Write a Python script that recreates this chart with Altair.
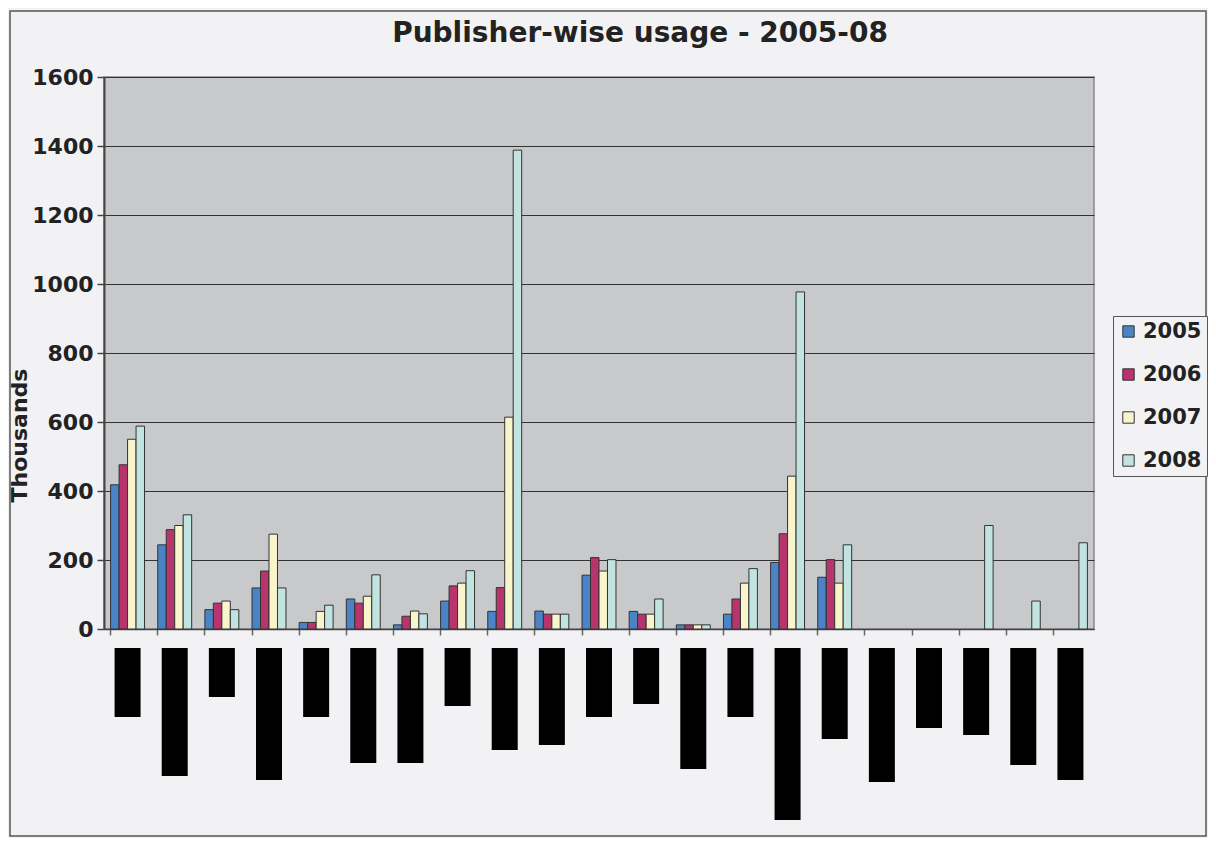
import altair as alt
import pandas as pd

chart_title = "Publisher-wise usage - 2005-08"
publishers = [f"Publisher {i}" for i in range(1, 22)]
years = ["2005", "2006", "2007", "2008"]
v2005 = [418, 244, 56, 119, 19, 87, 12, 81, 51, 52, 156, 51, 12, 43, 193, 150, 0, 0, 0, 0, 0]
v2006 = [476, 288, 75, 168, 19, 75, 37, 125, 120, 43, 207, 43, 12, 87, 276, 201, 0, 0, 0, 0, 0]
v2007 = [550, 300, 81, 275, 51, 95, 52, 133, 614, 43, 168, 43, 12, 133, 443, 133, 0, 0, 0, 0, 0]
v2008 = [588, 331, 56, 119, 69, 157, 44, 169, 1388, 43, 201, 87, 12, 175, 977, 244, 0, 0, 300, 81, 250]
# lengths of the redacted (blacked-out) category labels
label_box = [69, 128, 49, 132, 69, 115, 115, 58, 102, 97, 69, 56, 121, 69, 172, 91, 134, 80, 87, 117, 132]

colors = ["#4a84c6", "#b8346c", "#f8f4cc", "#c2e4e0"]

rows = []
for y, vals in zip(years, [v2005, v2006, v2007, v2008]):
    for p, v in zip(publishers, vals):
        if v > 0:
            rows.append({"publisher": p, "year": y, "value": v})
df = pd.DataFrame(rows)
boxes = pd.DataFrame({"publisher": publishers, "base": [0] * 21, "len": label_box})

xscale = alt.Scale(domain=publishers, paddingInner=0.28, paddingOuter=0.14)
xaxis = alt.Axis(labels=False, ticks=True, tickSize=6, tickColor="#666", tickWidth=1.5,
                 bandPosition=0, domainColor="#444", domainWidth=1.5, title=None, grid=False)

bars = alt.Chart(df).mark_bar(stroke="#333", strokeWidth=1).encode(
    x=alt.X("publisher:N", scale=xscale, axis=xaxis, sort=publishers),
    xOffset=alt.XOffset("year:N", scale=alt.Scale(domain=years, paddingInner=0, paddingOuter=0)),
    y=alt.Y("value:Q", scale=alt.Scale(domain=[0, 1600], nice=False),
            axis=alt.Axis(values=list(range(0, 1601, 200)), format="d", title="Thousands",
                          titleFontSize=22, titleFontWeight="bold", titleFont="DejaVu Sans",
                          titleX=-78, titleY=358, titleAngle=-90, titleColor="#222",
                          titleBaseline="alphabetic", titleAlign="center",
                          labelFontSize=22, labelFontWeight="bold", labelFont="DejaVu Sans",
                          labelColor="#222", labelPadding=4,
                          tickSize=7, tickColor="#444", tickWidth=1.5,
                          domainColor="#444", domainWidth=2,
                          grid=True, gridColor="#333", gridWidth=1.2)),
    color=alt.Color("year:N", scale=alt.Scale(domain=years, range=colors),
                    legend=alt.Legend(title=None, orient="none", legendX=1009, legendY=239,
                                      labelFontSize=21, labelFontWeight="bold",
                                      labelFont="DejaVu Sans", labelColor="#222",
                                      labelOffset=4,
                                      symbolType="square", symbolSize=130,
                                      symbolStrokeColor="#333", symbolStrokeWidth=1,
                                      rowPadding=21, padding=5,
                                      strokeColor="#555", fillColor="#f2f2f4")),
)

redact = alt.Chart(boxes).mark_bar(color="#000000", width=26).encode(
    x=alt.X("publisher:N", scale=xscale, sort=publishers),
    y=alt.Y("base:Q", scale=alt.Scale(domain=[0, 200], range=[571, 771], nice=False, zero=False),
            axis=None),
    y2="len:Q",
)

title_text = alt.Chart(pd.DataFrame({"t": [chart_title]})).mark_text(
    fontSize=28, font="DejaVu Sans", fontWeight="bold", color="#222",
    align="center", baseline="alphabetic").encode(
    text="t:N", x=alt.value(536), y=alt.value(-35))

border = alt.Chart(pd.DataFrame({"a": [0]})).mark_rect(
    fillOpacity=0, stroke="#555", strokeWidth=1.5).encode(
    x=alt.value(-94), x2=alt.value(1102), y=alt.value(-66), y2=alt.value(759))

chart = alt.layer(bars, redact, title_text, border).resolve_scale(y="independent").properties(
    width=990, height=552,
    autosize=alt.AutoSizeParams(type="none"),
    padding={"left": 96, "top": 69, "right": 114, "bottom": 209},
    background="#f2f2f4",
).configure_view(fill="#c8c9cb", stroke="#888", strokeWidth=1.5)

chart.save("out.html", embed_options={"renderer": "svg", "actions": False})
